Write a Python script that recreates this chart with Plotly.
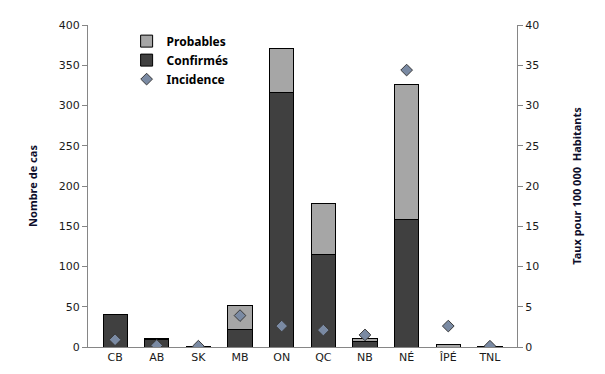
import plotly.graph_objects as go

provinces = ["CB", "AB", "SK", "MB", "ON", "QC", "NB", "NÉ", "ÎPÉ", "TNL"]
confirmes = [40, 9, 1, 22, 316, 115, 7, 159, 0, 1]
probables = [0, 1, 0, 30, 55, 63, 4, 167, 3, 0]
incidence = [0.9, 0.2, 0.1, 3.9, 2.6, 2.1, 1.5, 34.4, 2.6, 0.1]

fig = go.Figure()
fig.add_trace(go.Bar(
    x=provinces, y=confirmes, name="Confirmés", legendrank=2,
    marker=dict(color="#404040", line=dict(color="#000000", width=1)),
))
fig.add_trace(go.Bar(
    x=provinces, y=probables, name="Probables", legendrank=1,
    marker=dict(color="#a6a6a6", line=dict(color="#000000", width=1)),
))
fig.add_trace(go.Scatter(
    x=provinces, y=incidence, name="Incidence", yaxis="y2", mode="markers",
    legendrank=3,
    marker=dict(symbol="diamond", size=9, color="#7a8aa3",
                line=dict(color="#3a3a3a", width=1)),
))

tickfont = dict(family="DejaVu Sans", size=11, color="#1a1a1a")
titlefont = dict(family="Noto Sans", size=11, color="#0d0d2b", weight="bold")

fig.update_layout(
    width=605, height=374,
    margin=dict(l=88, r=88, t=25, b=27),
    paper_bgcolor="white", plot_bgcolor="white",
    barmode="stack", bargap=0.42,
    showlegend=True,
    legend=dict(x=0.09, y=0.995, xanchor="left", yanchor="top",
                traceorder="normal", bgcolor="rgba(0,0,0,0)",
                font=dict(family="Noto Sans", size=12, color="#000000", weight="bold"),
                itemsizing="trace", tracegroupgap=0, itemwidth=30),
    xaxis=dict(
        showline=True, linecolor="#868686", linewidth=1, automargin=False,
        ticks="", tickfont=tickfont, showgrid=False,
    ),
    yaxis=dict(
        range=[0, 400], dtick=50, showline=True, linecolor="#868686", linewidth=1,
        ticks="outside", ticklen=5, tickcolor="#868686", showgrid=False,
        tickfont=tickfont, zeroline=False, automargin=False,
        title=dict(text="Nombre de cas", font=titlefont, standoff=18),
    ),
    yaxis2=dict(
        range=[0, 40], dtick=5, overlaying="y", side="right",
        showline=True, linecolor="#868686", linewidth=1, automargin=False,
        ticks="outside", ticklen=5, tickcolor="#868686", showgrid=False,
        tickfont=tickfont, zeroline=False,
        title=dict(text="Taux pour 100 000  Habitants", font=titlefont, standoff=35),
    ),
)

fig.write_html("out.html", config={"displayModeBar": False},
               post_script="document.body.style.margin='0';")
